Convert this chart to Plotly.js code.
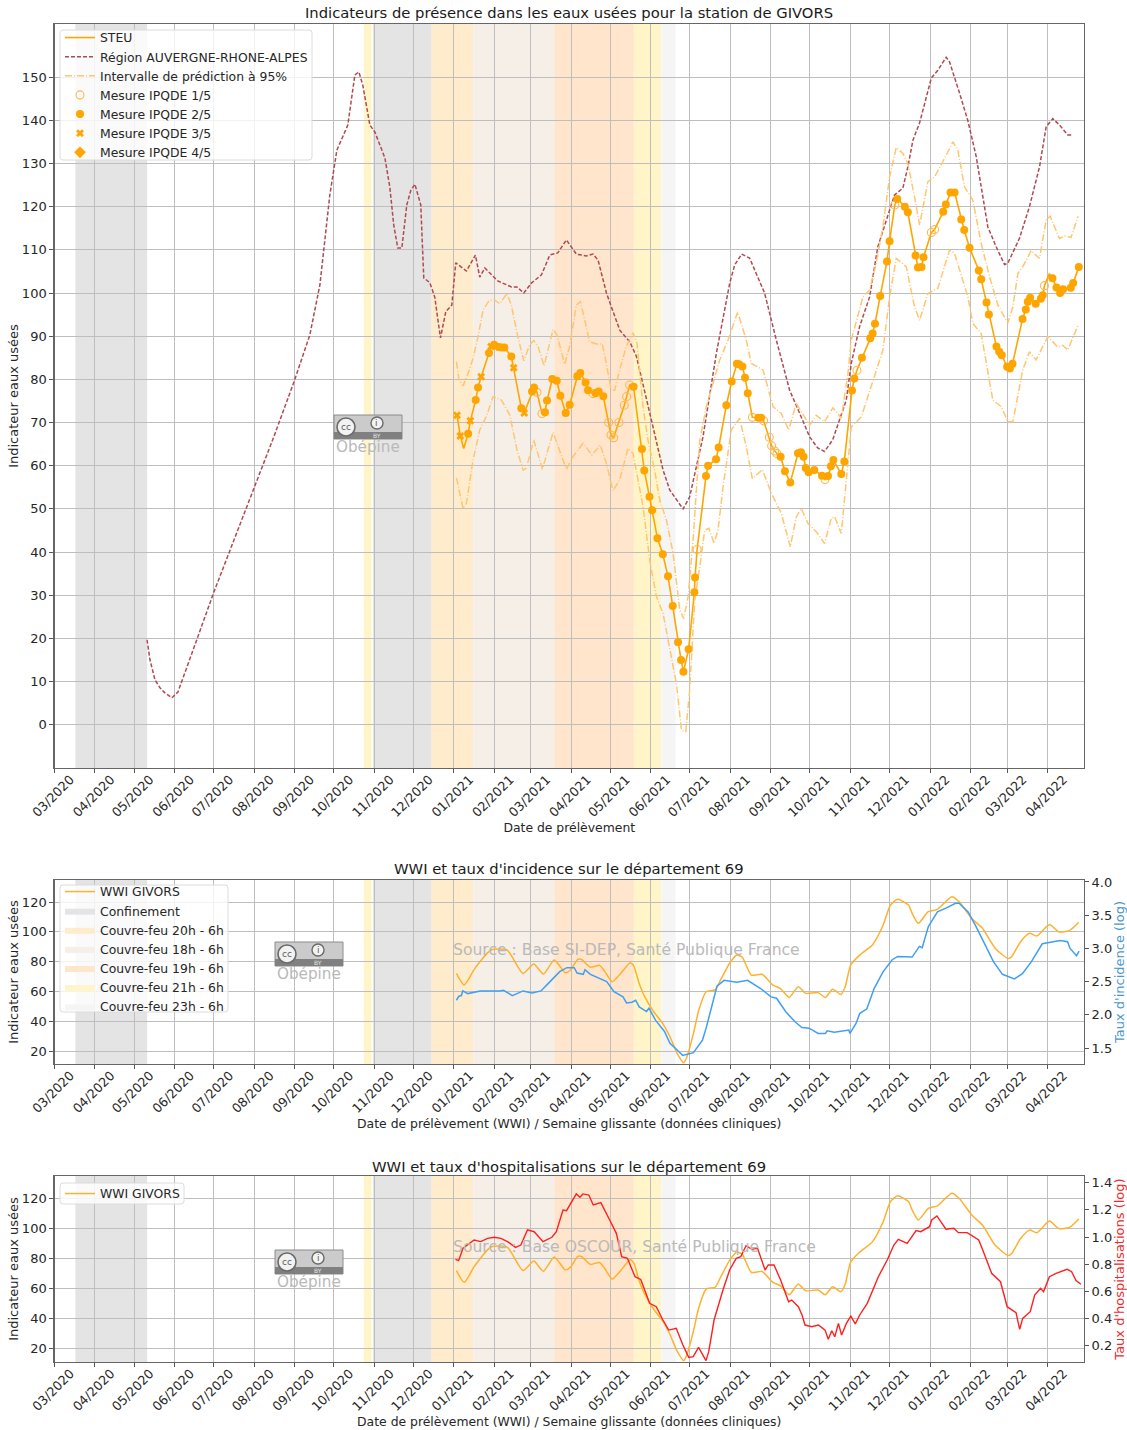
<!DOCTYPE html>
<html><head><meta charset="utf-8">
<script src="https://cdn.plot.ly/plotly-3.0.1.min.js"></script>
<style>html,body{margin:0;padding:0;background:#fff}</style>
</head><body><div id="chart" style="width:1127px;height:1430px"></div>
<script>
// Dates are stored as days since the first tick
const startDate = Date.UTC(2020,2,1);
const xEndDay = 789;

const spanNames  = ['Confinement','Confinement','Couvre-feu 21h - 6h','Couvre-feu 20h - 6h','Couvre-feu 18h - 6h','Couvre-feu 19h - 6h','Couvre-feu 21h - 6h','Couvre-feu 23h - 6h'];
const spanStart  = ['2020-03-17','2020-10-31','2020-10-24','2020-12-15','2021-01-16','2021-03-19','2021-05-19','2021-06-09'];
const spanEnd    = ['2020-05-11','2020-12-15','2020-10-30','2021-01-16','2021-03-19','2021-05-19','2021-06-09','2021-06-20'];
const spanColors = ['#e4e4e4','#e4e4e4','#fff5c9','#ffeccc','#f5efe8','#fee5cb','#fff5c9','#f5f5f5'];
const spanLegendOrder = [0,3,4,5,6,7];

const regionDay = [70.9,73.2,77,80.8,84.6,90,94.6,100,107.6,122.2,137.5,152.8,168.1,183.5,195.7,203.4,211,216.4,224.8,230.2,233.3,236.3,241.7,245.5,253.2,257,260,263.1,266.2,270,273.1,276.2,280.7,283,287.6,291.4,295.8,299.9,304.5,307.5,315.7,322.6,325.9,329.8,339.7,350.2,354.3,359.7,365.5,373.2,379.6,385.7,392.3,400,407.7,412.7,416.6,423,433.2,440.9,446,456.2,466.4,471.5,481.7,486.8,497,507.3,517.5,521.3,526.6,532.7,544.2,553.2,563.4,571,578.7,584.9,590.2,596.4,606.8,610.7,617,624.7,631,640,643.8,650.2,654,657.9,663,672,677,683.4,686,693.6,699.9,706.4,715.3,721.7,728.1,730.6,739.6,747.2,754.9,760,765.1,770.2,776.6,780.4];
const regionVal = [19.7,15,10.4,8.6,7.4,6.25,7.6,12.3,18.5,30.8,42.8,54.4,66.7,79.4,90.3,101.9,122.7,133.1,138.9,150.5,151.2,148.1,138.9,137.3,131.3,124.5,115.7,110.4,110.4,120.4,123.8,125.2,120.4,103.5,102.4,99.1,89.6,95.7,97.2,107,105.1,108.8,103.7,105.8,102.8,101.4,101.4,100,102.3,104.2,108.8,109.3,112.3,109,108.6,109,107.6,100,91.4,88.7,85.3,72.2,59,54.4,50,52.8,66.7,86.1,102.3,106.5,109,108.1,100,89.1,77.5,72.2,66.7,64.1,63.3,66,75.2,83.8,92.2,99.1,110.7,119.2,122.7,124.3,129.2,135.4,139.4,149.8,151.6,154.6,153.5,146.3,140,131.6,115.3,110.7,106.6,106.9,112.7,120,129.2,138.5,140.4,138.9,136.6,136.6];

const upperDay = [308,310,313.1,317,320.8,324.6,328.4,333,336.9,341.2,346.8,350.1,354.5,359.6,364.2,367.3,370.6,375.2,382.1,385.1,391,394.8,399.9,403,406.3,410.1,415.3,419.8,422.9,426.7,429.3,433.1,438.2,443.3,446.4,451,454.8,459.9,463.9,469,474.1,479.2,482.2,485.6,489.4,494.5,499.6,504.7,509.8,516.2,523.6,530.2,534,543,550.7,557,562.7,568.5,572.4,578.7,583.8,590.2,596.6,603,608.1,610.6,619.6,624.7,629.8,634.9,640,645.1,650.2,654,659.1,663,669.4,674.5,680.8,688.5,692.3,697.4,703.8,710.2,716.6,723,730.6,734.5,738.3,742.1,748.5,754.9,760,763,770.2,774,779.1,784.5];
const upperVal = [84.1,79.9,78.5,81.4,84.9,89.9,96,98.2,98.5,97.5,99.9,97.2,90.7,84.3,88,89,87.6,83.1,91.6,90.3,83.5,87.6,97.2,98,93.8,88.7,88.2,88.2,83.7,77.5,77.5,82.2,87.6,90.8,88.4,73.7,66,59,52,47.4,39.7,26.6,24.6,29.7,42.8,65.9,73.7,79.4,84.5,89.1,95.6,89.1,83.7,82.2,73.7,72.1,68.3,74.4,72.5,69.4,71.7,70.2,73.4,71,81.4,89.1,99.1,100.7,106.9,115.4,126.9,133.7,132.3,130,122.3,115.7,125.8,126.9,130.4,135,133.1,124.6,121.5,111.5,103.8,97.2,93,96.8,104.5,106.1,109.8,108,116.9,117.8,112.6,113.2,112.9,117.8];

const lowerDay = [308,313.1,315.7,320.8,325.9,331,336.1,342.5,348.9,354.5,359.1,361.6,367.3,373.9,382.1,385.9,392.3,397.4,405,411.9,418.3,422.9,428,433.1,439.5,443.3,448.4,451.1,456.2,461.3,466.4,471.5,476.6,480.5,483.8,486.8,490.7,494.5,498.3,501.6,505.5,508.5,512.4,518.7,525.1,530.2,534.8,542.5,549.4,557,563.9,568.5,572.4,577.5,583.8,590.2,595.3,597.9,603,607.3,610.7,618.3,627.2,634.9,640,645.1,652.8,659.1,663,669.4,677,686,689.8,700,703.8,710.2,719.1,725.5,730.6,734.5,742.1,747.2,752.3,761.3,768.9,772.7,776.6,784.5];
const lowerVal = [57.2,50.1,51.3,61.3,68.3,71.4,76,75.2,71.8,63.6,59,59.4,66,59.2,67.7,64.4,59.2,62.1,65.2,62.5,64.8,60.6,54.2,56.7,64,62.9,54.4,50.5,38.1,29.7,25.8,18.1,9.6,-1.2,-1.6,8,28.9,36.6,45.1,45.5,42,45.1,55.1,68.3,71,64.4,57,59.1,53.6,49,41.2,48.2,50.1,46.6,44.7,42,47.8,48.2,44.3,58.2,69,71.3,79.8,86.8,99.1,108,106.1,96.8,93.7,99.9,101.1,110,109.2,99.1,93,90.6,75.2,73.7,70.2,70.2,82.2,86.4,84.5,89.9,87.5,87.9,86.8,92.6];

// 0 = line only, 1 = IPQDE 1/5, 2 = IPQDE 2/5, 3 = IPQDE 3/5
const measDay = [308.5,311,313.6,317,318.7,322.8,324.6,327,333,334.6,336.9,340.4,342.5,344.8,350.1,351.9,357.8,360,366,367.5,369.8,373.6,375.9,377.5,381.5,384.9,387.7,391.8,394.8,400.7,403,407,408.9,412.7,414.7,417,420.6,424.7,426.5,428.5,432.6,436.7,438.5,440.8,443.8,450.2,452,456,458,462.1,466.2,470.2,473.8,477.9,480.2,482,486,490.4,490.9,492.5,499.3,500.9,507,509,514.9,519,523,524.6,527.2,529.2,531.3,534.8,539.4,541.5,543.5,547.8,549.6,551.9,553.7,556.5,559.8,563.9,569.8,572.1,574.1,575.7,578,582.3,588.2,590.5,592.8,595,596.9,603,605.3,611.2,613,615,618.8,625.2,627,628.8,632.8,638,640,644,645.9,651.7,654,659.9,661.7,664.5,666,672,674.5,681.1,683.1,686.7,689.8,694.9,697.2,701.3,708.4,710.2,714.3,716.1,721.9,724,726,730.1,732.2,734.2,741.9,744.4,745.9,747.7,752,755.9,757.4,758.7,762.5,764.8,767.9,770.7,773,778.9,780.7,785];
const measVal = [71.7,66.9,64,67.4,70.4,75.2,78.1,80.6,86.1,87.6,88,87.5,87.4,87.4,85.3,82.7,73.3,72.2,77.2,78.1,77,72.1,72.4,75.1,80.1,79.7,76.2,72.2,74.1,80.7,81.5,79.3,77.5,76.7,76.8,77.2,76.1,70,67.1,66.5,70,74,76,78.7,78.3,63.9,58.9,52.8,49.7,43.2,39.5,34.4,27.5,19.1,15,12.3,17.5,30.7,34.1,40.6,57.6,60,61.5,64.2,74,79.5,83.6,83.5,83,80.4,76.8,71.2,71.1,71.1,70.4,66.6,64.6,63.4,62.8,62.1,58.7,56.1,62.9,63.1,62.1,59.5,58.5,59,57.7,56.8,57.6,59.9,61.3,58.1,61,77.4,80.2,82.1,85,89.5,90.6,92.9,99.3,107.3,112,120.4,121.8,120,118.7,108.7,105.9,106,108.3,114,114.7,118.8,120.5,123.3,123.3,117,114.6,110.5,105.2,103.2,97.8,95,87.6,86.4,85.6,82.9,82.5,83.6,94,96.2,98,98.9,97.5,98.7,99.5,101.7,104.5,103.4,101.3,100,100.9,101.2,102.3,106];
const measClass = [3,3,0,2,3,2,2,3,2,3,2,2,2,2,2,3,2,3,2,2,1,1,2,2,2,2,2,2,2,2,2,2,2,1,2,2,2,1,1,1,1,1,1,1,2,2,2,2,2,2,2,2,2,2,2,2,2,2,2,1,2,2,2,2,2,2,2,2,2,2,2,1,2,2,1,1,1,1,1,2,2,2,2,2,2,2,2,2,2,1,2,2,2,2,2,2,2,1,2,2,2,2,2,2,2,1,2,2,2,2,2,2,2,1,1,2,2,2,2,2,2,2,2,2,2,2,2,2,2,2,2,2,2,2,2,2,2,2,2,1,0,2,2,2,2,2,2,2];

const wwiDay = [308,314,322.2,334.5,346.8,359.1,367.3,374.7,382.9,387.2,391.4,395.5,401,403.8,410.7,417.7,421.8,427.4,432.9,441.2,444,448.1,452.3,459.2,466.1,471.7,477.2,482.2,484.7,489.7,493.8,499.4,506.3,510.5,517.4,522.9,527.1,534,542.3,550.6,556.2,563.1,570,575.6,585.3,590.8,596.3,602.7,606,610.2,617.1,626.8,635.1,640.7,646.2,654.5,657.3,662,669.7,676.7,687.7,693.3,703,711.3,721,730.7,733.5,740.4,747.3,752.8,762.5,769.5,777.8,785];
const wwiVal = [72.1,64.3,75.5,87.8,87.8,72.1,78.4,71.7,81.1,77.1,72.6,74.4,81.5,81.5,76.2,77.5,73.3,66.5,71,79.3,77,65.4,56.5,46.4,38.6,29.6,18.5,12.2,16.2,31.9,47.5,59.8,61,67.7,78.9,84.4,82.9,71,71.5,64.3,62.1,56,63.2,58.7,59.2,56,61.4,58,63.2,77.7,84.4,91.2,104.6,118,121.8,118,112.4,105.7,113.5,115.1,123.6,120.2,109,102.3,88.9,82.2,83.3,93.4,99,97.2,105,100.1,100.8,106.4];

const incidenceDay = [308,309.9,311.8,312.9,316.7,320,326.3,341.3,344.1,350.9,359.1,366,372.8,378.3,382.4,387.2,392.7,398.3,400.5,405.2,406.6,410.7,423.2,428.8,435.7,438.4,442.6,445.4,448.1,453.7,455.6,460.6,467.5,471.7,477.2,481.4,489.7,493.8,496.6,499.4,503.5,507.7,513.2,522.9,531.2,540.9,549.2,553.4,560.3,567.3,572.8,578.3,585.3,590.8,592.2,597.7,608.8,609.6,614.3,617.1,622.6,628.2,635.1,642,646.2,657.3,662.8,665,669.7,676.7,683.6,690.5,693.3,700.2,705.7,711.3,719.6,726.5,735.7,741.8,748.7,757,764,770.8,776.4,778.3,783.3,785.2];
const incidenceVal = [2.22,2.28,2.29,2.36,2.32,2.33,2.36,2.36,2.37,2.29,2.36,2.33,2.36,2.47,2.56,2.65,2.71,2.71,2.63,2.61,2.68,2.61,2.5,2.35,2.27,2.18,2.19,2.22,2.12,2.05,2.1,1.92,1.75,1.57,1.47,1.39,1.43,1.55,1.62,1.8,2.1,2.43,2.52,2.49,2.52,2.4,2.27,2.25,2.05,1.9,1.81,1.8,1.72,1.72,1.76,1.74,1.77,1.72,1.87,2.02,2.09,2.4,2.65,2.83,2.88,2.87,3.03,3.01,3.33,3.55,3.61,3.68,3.68,3.55,3.35,3.12,2.8,2.61,2.54,2.62,2.8,3.07,3.1,3.12,3.1,3.0,2.89,2.96];

const hospDay = [307.3,309.7,313.1,318.2,321.6,326.7,331.9,337,342.1,347.2,353.3,357.4,362.5,367.6,374.4,381.2,384.6,389.7,392.4,399.9,402.7,405,409.5,412.9,418.7,425.5,430.6,434.7,439.1,444.9,449.3,456.1,461.2,466.3,470.7,476.5,481.6,486.1,489.5,493.6,499.3,501.4,505.5,512.3,517.4,522.5,525.9,530,534.4,538.8,544.6,547,551.4,556.5,559.9,562.6,565,570.1,572.9,575.2,580.4,585.5,590.6,593,595.7,598,600.8,603.2,606.9,610.3,613.7,617.1,622.9,631.4,638.2,643.3,646.7,653.5,660.3,663.8,670.6,672.3,676.3,683.2,689.3,692.7,699.5,708.3,711.4,718.2,725,730.1,736.9,739.7,742,747.8,751.2,755.7,758,762.5,767.6,776.1,779.5,782.9,786.6];
const hospVal = [.836,.826,.917,.953,.978,.966,.99,.998,.99,.966,.924,.941,1.052,1.039,.966,.998,1.039,1.199,1.194,1.317,1.292,1.317,1.309,1.236,1.253,1.125,1.027,.855,.843,.708,.688,.512,.487,.389,.315,.328,.205,.114,.119,.188,.09,.156,.389,.61,.757,.843,.855,.936,.909,.917,.757,.794,.794,.684,.598,.524,.536,.487,.426,.352,.34,.352,.315,.247,.31,.266,.364,.279,.364,.418,.36,.426,.512,.708,.831,.941,.983,.953,1.047,1.039,1.076,1.125,1.155,1.057,1.064,1.032,1.032,.978,.904,.733,.671,.487,.443,.32,.401,.45,.573,.622,.598,.708,.733,.762,.745,.679,.652];

const topTicks = [0,10,20,30,40,50,60,70,80,90,100,110,120,130,140,150];
const lowerTicks = [20,40,60,80,100,120];
const incidenceTicks = [1.5,2,2.5,3,3.5,4];
const hospTicks = [.2,.4,.6,.8,1,1.2,1.4];

const date = d => new Date(startDate + d*864e5).toISOString().slice(0,16);
const dates = a => a.map(date);

const W = 1127, H = 1430;
const font = 'DejaVu Sans, sans-serif';
const ORANGE='#ffa500', WWI='#ffb12e', BLUE='#3f9ff5', RED='#ff1f1f', BAND='#ffc670';
const px = x => x/W, py = y => 1-y/H;
const plots = [{top:24,bottom:768},{top:880,bottom:1064},{top:1176,bottom:1362}];
const pick = (arr,c) => arr.filter((_,i)=>measClass[i]===c);

const data = [
 {name:'STEU',x:dates(measDay),y:measVal,mode:'lines',line:{color:ORANGE,width:1.6},xaxis:'x',yaxis:'y',legend:'legend'},
 {name:'Région AUVERGNE-RHONE-ALPES',x:dates(regionDay),y:regionVal,mode:'lines',line:{color:'#b04a50',width:1.5,dash:'4px,2px'},xaxis:'x',yaxis:'y',legend:'legend'},
 {name:'Intervalle de prédiction à 95%',x:dates(upperDay),y:upperVal,mode:'lines',line:{color:BAND,width:1.5,dash:'7px,2px,1px,2px'},xaxis:'x',yaxis:'y',legend:'legend'},
 {name:'Intervalle bas',showlegend:false,x:dates(lowerDay),y:lowerVal,mode:'lines',line:{color:BAND,width:1.5,dash:'7px,2px,1px,2px'},xaxis:'x',yaxis:'y'},
 {name:'Mesure IPQDE 1/5',x:dates(pick(measDay,1)),y:pick(measVal,1),mode:'markers',marker:{symbol:'circle-open',size:8,color:'#ffb84d',line:{width:1.1,color:'#ffb84d'}},xaxis:'x',yaxis:'y',legend:'legend'},
 {name:'Mesure IPQDE 2/5',x:dates(pick(measDay,2)),y:pick(measVal,2),mode:'markers',marker:{symbol:'circle',size:8,color:ORANGE},xaxis:'x',yaxis:'y',legend:'legend'},
 {name:'Mesure IPQDE 3/5',x:dates(pick(measDay,3)),y:pick(measVal,3),mode:'markers',marker:{symbol:'x',size:7,color:ORANGE},xaxis:'x',yaxis:'y',legend:'legend'},
 {name:'Mesure IPQDE 4/5',x:[null],y:[null],mode:'markers',marker:{symbol:'diamond',size:9,color:ORANGE},xaxis:'x',yaxis:'y',legend:'legend'},

 {name:'WWI GIVORS',x:dates(wwiDay),y:wwiVal,mode:'lines',line:{color:WWI,width:1.5,shape:'spline',smoothing:.6},xaxis:'x2',yaxis:'y2',legend:'legend2'}
];
spanLegendOrder.forEach(i=>data.push({name:spanNames[i],x:[null],y:[null],mode:'lines',fill:'toself',fillcolor:spanColors[i],line:{width:0,color:spanColors[i]},xaxis:'x2',yaxis:'y2',legend:'legend2'}));
data.push(
 {name:"Taux d'incidence",showlegend:false,x:dates(incidenceDay),y:incidenceVal,mode:'lines',line:{color:BLUE,width:1.5},xaxis:'x2',yaxis:'y3'},
 {name:'WWI GIVORS',x:dates(wwiDay),y:wwiVal,mode:'lines',line:{color:WWI,width:1.5,shape:'spline',smoothing:.6},xaxis:'x3',yaxis:'y4',legend:'legend3'},
 {name:"Taux d'hospitalisations",showlegend:false,x:dates(hospDay),y:hospVal,mode:'lines',line:{color:RED,width:1.4},xaxis:'x3',yaxis:'y5'}
);

const shapes = [];
['x','x2','x3'].forEach((xr,p)=>{
  const yr = ['y','y2','y4'][p];
  spanNames.forEach((n,i)=>{
    shapes.push({type:'rect',layer:'below',xref:xr,yref:yr+' domain',x0:spanStart[i],x1:spanEnd[i],y0:0,y1:1,fillcolor:spanColors[i],line:{width:0}});
  });
});

const annotations = [];
const text = (t,cx,cy,size,color,extra) => annotations.push(Object.assign({text:t,xref:'paper',yref:'paper',x:px(cx),y:py(cy),xanchor:'center',yanchor:'middle',showarrow:false,font:{family:font,size:size,color:color}},extra||{}));
const pshape = (type,x0,y0,x1,y1,fill,lc,lw) => shapes.push({type:type,layer:'above',xref:'paper',yref:'paper',x0:px(x0),x1:px(x1),y0:py(y0),y1:py(y1),fillcolor:fill,line:{color:lc||fill,width:lw===undefined?0:lw}});

// Rounded legend frames
[[60,30,312,160],[60,885,228,1012],[60,1183,184,1204]].forEach(([a,b,c,d])=>{
  const r=3, X=px, Y=py;
  const path=`M${X(a+r)},${Y(b)}L${X(c-r)},${Y(b)}Q${X(c)},${Y(b)} ${X(c)},${Y(b+r)}L${X(c)},${Y(d-r)}Q${X(c)},${Y(d)} ${X(c-r)},${Y(d)}L${X(a+r)},${Y(d)}Q${X(a)},${Y(d)} ${X(a)},${Y(d-r)}L${X(a)},${Y(b+r)}Q${X(a)},${Y(b)} ${X(a+r)},${Y(b)}Z`;
  shapes.push({type:'path',layer:'above',xref:'paper',yref:'paper',path:path,fillcolor:'rgba(255,255,255,0.8)',line:{color:'#dcdcdc',width:1}});
});

// CC BY badge with the "Obépine" mark
[[334,415],[275,942],[275,1250]].forEach(([bx,by])=>{
  pshape('rect',bx,by,bx+68,by+24,'#cbcbcb','#8c8c8c',1);
  pshape('rect',bx,by+17,bx+68,by+24,'#808080','#808080',0);
  pshape('circle',bx+3,by+3,bx+21,by+21,'#f2f2f2','#6a6a6a',1.6);
  pshape('circle',bx+37,by+2,bx+49,by+14,'#f2f2f2','#6a6a6a',1.4);
  text('cc',bx+12,by+12,9,'#5c5c5c');
  text('i',bx+43,by+8,9,'#5c5c5c');
  text('BY',bx+43,by+20.5,6,'#e8e8e8');
  text('Obépine',bx+34,by+32,15.2,'#b9b9b9');
});
text('Source : Base SI-DEP, Santé Publique France',626,950,15.6,'#b9b9b9');
text('Source : Base OSCOUR, Santé Publique France',634,1247,15.6,'#b9b9b9');

text('Indicateurs de présence dans les eaux usées pour la station de GIVORS',569,13,14.75,'#1a1a1a');
text("WWI et taux d'incidence sur le département 69",569,869,14.75,'#1a1a1a');
text("WWI et taux d'hospitalisations sur le département 69",569,1166,14.75,'#1a1a1a');

const xAxis = (p,title) => ({
  domain:[px(54.5),px(1084)], anchor:['y','y2','y4'][p],
  type:'date', range:[date(0),date(xEndDay)], tick0:'2020-03-01', dtick:'M1', tickformat:'%m/%Y', tickangle:-45,
  ticks:'outside', ticklen:4, tickwidth:1, tickcolor:'#555', ticklabelshift:16, ticklabelstandoff:-6,
  tickfont:{family:font,size:12.7,color:'#262626'},
  showgrid:true, gridcolor:'#bebebe', gridwidth:1, showline:true, mirror:true, linecolor:'#666', linewidth:1.2, zeroline:false,
  automargin:false, title:{text:title,font:{family:font,size:12.4,color:'#262626'},standoff:0}
});
const leftAxis = (p,range,ticks) => ({
  domain:[py(plots[p].bottom),py(plots[p].top)], anchor:['x','x2','x3'][p], range:range, tickmode:'array', tickvals:ticks,
  ticks:'outside', ticklen:4, tickwidth:1, tickcolor:'#555', tickfont:{family:font,size:13,color:'#262626'},
  showgrid:true, gridcolor:'#bebebe', gridwidth:1, showline:true, mirror:true, linecolor:'#666', linewidth:1.2, zeroline:false,
  automargin:false, title:{text:'Indicateur eaux usées',font:{family:font,size:13,color:'#262626'},standoff:0}
});
const rightAxis = (p,range,ticks,title,color) => ({
  domain:[py(plots[p].bottom),py(plots[p].top)], overlaying:['y','y2','y4'][p], anchor:['x','x2','x3'][p], side:'right', range:range, tickmode:'array', tickvals:ticks,
  ticks:'outside', ticklen:4, tickwidth:1, tickcolor:'#555', tickfont:{family:font,size:13,color:'#262626'}, tickformat:'.1f',
  showgrid:false, showline:false, zeroline:false, automargin:false,
  title:{text:title,font:{family:font,size:13,color:color},standoff:2}
});
const legend = (x,y) => ({x:px(x),y:py(y),xanchor:'left',yanchor:'top',bgcolor:'rgba(0,0,0,0)',borderwidth:0,font:{family:font,size:12.4,color:'#262626'},itemclick:false});

const layout = {
  width:W, height:H, margin:{l:0,r:0,t:0,b:0}, paper_bgcolor:'#fff', plot_bgcolor:'rgba(0,0,0,0)',
  font:{family:font}, showlegend:true, hovermode:false,
  xaxis:xAxis(0,'Date de prélèvement'),
  xaxis2:xAxis(1,'Date de prélèvement (WWI) / Semaine glissante (données cliniques)'),
  xaxis3:xAxis(2,'Date de prélèvement (WWI) / Semaine glissante (données cliniques)'),
  yaxis:leftAxis(0,[-10,162.3],topTicks),
  yaxis2:leftAxis(1,[11.3,134.8],lowerTicks),
  yaxis3:rightAxis(1,[1.26,4.03],incidenceTicks,"Taux d'incidence (log)",'#4a97cf'),
  yaxis4:leftAxis(2,[11.3,135],lowerTicks),
  yaxis5:rightAxis(2,[.08,1.449],hospTicks,"Taux d'hospitalisations (log)",'#f02a2a'),
  legend:legend(60,23), legend2:legend(60,877), legend3:legend(60,1179),
  shapes:shapes, annotations:annotations
};
Plotly.newPlot('chart',data,layout,{displayModeBar:false,staticPlot:true});
</script></body></html>
